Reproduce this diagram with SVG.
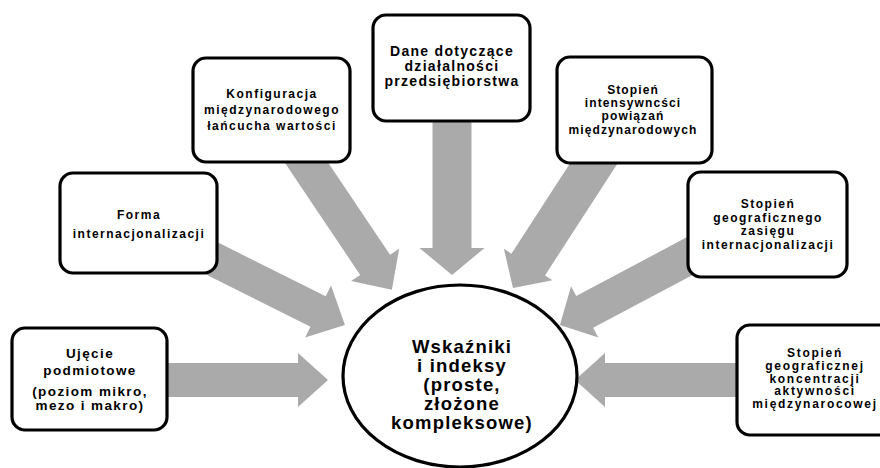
<svg xmlns="http://www.w3.org/2000/svg" width="880" height="468" viewBox="0 0 880 468">
<style>
.box{fill:#fff;stroke:#000;stroke-width:3.2}
.arr{fill:#aaaaaa;stroke:none}
text{font-family:"Liberation Sans",Arial,sans-serif;font-weight:bold;fill:#000;text-anchor:middle}
.t12{font-size:12px;letter-spacing:1.5px}
.t13{font-size:13.5px;letter-spacing:1.4px}
.t14{font-size:14px;letter-spacing:1.3px}
.t5{font-size:12px;letter-spacing:1.1px}
.t7{font-size:12px;letter-spacing:1.7px}
.tc{font-size:18.5px;letter-spacing:1.2px}
</style>
<rect width="880" height="468" fill="#fff"/>
<g id="connectors">
<polygon class="arr" transform="translate(155,380)" points="0,-17 143,-17 143,-27 173,0 143,27 143,17 0,17"/>
<polygon class="arr" transform="translate(745,380) rotate(180)" points="0,-17 140,-17 140,-27 170,0 140,27 140,17 0,17"/>
<polygon class="arr" transform="translate(452,110) rotate(90)" points="0,-19.5 138,-19.5 138,-32.5 165,0 138,32.5 138,19.5 0,19.5"/>
<polygon class="arr" transform="translate(297.6,149.5) rotate(56.1)" points="0,-18 139,-18 139,-29 169,0 139,29 139,18 0,18"/>
<polygon class="arr" transform="translate(203.6,254.3) rotate(26.57)" points="0,-17 128,-17 128,-29 158,0 128,29 128,17 0,17"/>
<polygon class="arr" transform="translate(602.2,150.4) rotate(122.96)" points="0,-20 136,-20 136,-29 164,0 136,29 136,20 0,20"/>
<polygon class="arr" transform="translate(701.2,250) rotate(152)" points="0,-18 132,-18 132,-29 160,0 132,29 132,18 0,18"/>
</g>
<g id="node-ujecie">
<rect class="box" x="12" y="328" width="155" height="102" rx="13"/>
<text class="t13" x="90" y="358">Ujęcie</text>
<text class="t13" x="90" y="375">podmiotowe</text>
<text class="t13" x="90" y="396">(poziom mikro,</text>
<text class="t13" x="90" y="410">mezo i makro)</text>
</g>
<g id="node-forma">
<rect class="box" x="60" y="173" width="157" height="100" rx="13"/>
<text class="t12" x="139" y="219">Forma</text>
<text class="t12" x="139" y="238">internacjonalizacji</text>
</g>
<g id="node-konfiguracja">
<rect class="box" x="193" y="58" width="157" height="104" rx="13"/>
<text class="t12" x="272" y="98">Konfiguracja</text>
<text class="t12" x="272" y="114">międzynarodowego</text>
<text class="t12" x="272" y="130">łańcucha wartości</text>
</g>
<g id="node-dane">
<rect class="box" x="373" y="15" width="157" height="106" rx="13"/>
<text class="t14" x="452" y="56">Dane dotyczące</text>
<text class="t14" x="452" y="71">działalności</text>
<text class="t14" x="452" y="86">przedsiębiorstwa</text>
</g>
<g id="node-intensywnosc">
<rect class="box" x="557" y="57" width="155" height="106" rx="13"/>
<text class="t5" x="633" y="94">Stopień</text>
<text class="t5" x="633" y="107">intensywncści</text>
<text class="t5" x="633" y="120">powiązań</text>
<text class="t5" x="633" y="134">międzynarodowych</text>
</g>
<g id="node-zasieg">
<rect class="box" x="688" y="172" width="159" height="105" rx="13"/>
<text class="t12" x="768" y="208">Stopień</text>
<text class="t12" x="768" y="221.5">geograficznego</text>
<text class="t12" x="768" y="235">zasięgu</text>
<text class="t12" x="768" y="248.5">internacjonalizacji</text>
</g>
<g id="node-koncentracja">
<rect class="box" x="737" y="325" width="160" height="110" rx="13"/>
<text class="t7" x="815" y="357">Stopień</text>
<text class="t7" x="815" y="370">geograficznej</text>
<text class="t7" x="815" y="382.5">koncentracji</text>
<text class="t7" x="815" y="395">aktywności</text>
<text class="t7" x="815" y="407.5">międzynarocowej</text>
</g>
<g id="node-wskazniki">
<ellipse class="box" cx="460" cy="376" rx="117" ry="91"/>
<text class="tc" x="462" y="353">Wskaźniki</text>
<text class="tc" x="462" y="372">i indeksy</text>
<text class="tc" x="462" y="391">(proste,</text>
<text class="tc" x="462" y="410">złożone</text>
<text class="tc" x="462" y="429">kompleksowe)</text>
</g>
</svg>
